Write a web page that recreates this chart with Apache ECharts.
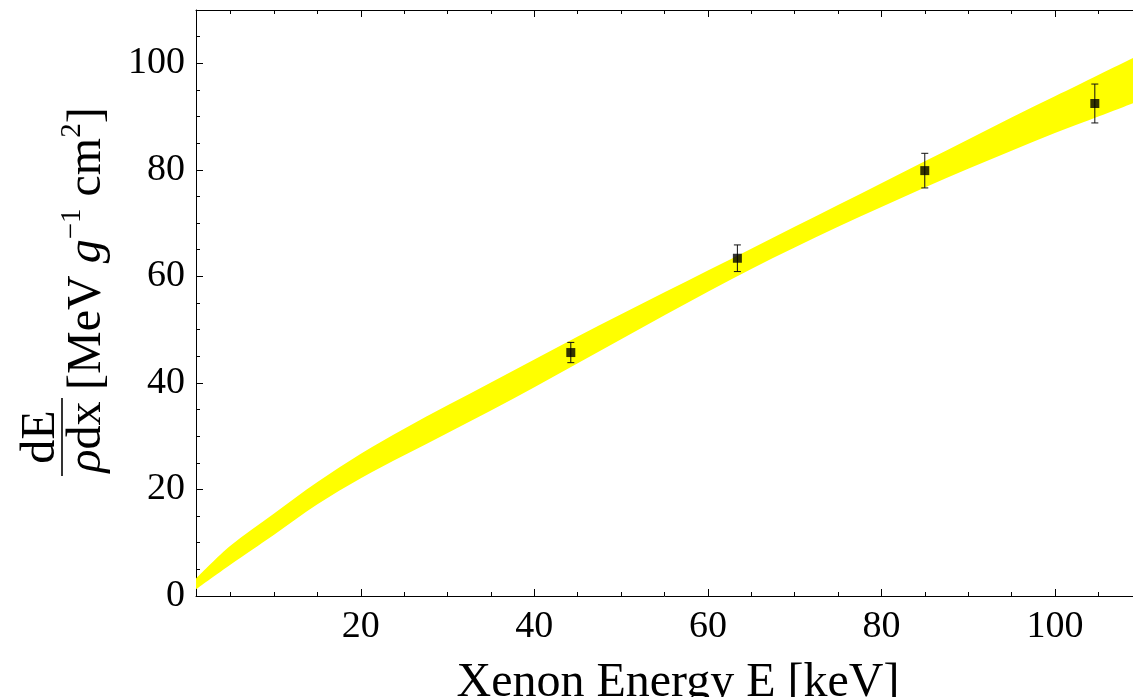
<!DOCTYPE html>
<html><head><meta charset="utf-8">
<script src="https://cdn.jsdelivr.net/npm/echarts@6/dist/echarts.min.js"></script>
<style>html,body{margin:0;padding:0;background:#fff}#c{width:1133px;height:697px}</style>
</head><body><div id="c"></div>
<script>
// Band (theory uncertainty)
const bandX     = [1, 5, 10, 15, 20, 25, 30, 35, 40, 45, 50, 55, 60, 65, 70, 75, 80, 85, 90, 95, 100, 105, 109];
const bandLower = [1.25, 5.9, 11.5, 17.2, 22.1, 26.4, 30.6, 34.8, 39.2, 43.7, 48.2, 52.7, 57.1, 61.4, 65.4, 69.3, 73.0, 76.7, 80.2, 83.6, 86.9, 90.0, 92.5];
const bandUpper = [3.3, 9.5, 15.5, 21.4, 26.7, 31.4, 35.8, 40.1, 44.4, 48.7, 52.9, 57.0, 61.1, 65.2, 69.3, 73.4, 77.5, 81.6, 85.7, 89.8, 93.8, 97.8, 101.0];
// Measured points with error bars
const pointX   = [44.2, 63.4, 85.0, 104.6];
const pointY   = [45.7, 63.4, 79.85, 92.45];
const pointErr = [1.9, 2.5, 3.25, 3.65];
// Ticks
const xMajorTicks = [20, 40, 60, 80, 100];
const xMinorTicks = [5, 10, 15, 25, 30, 35, 45, 50, 55, 65, 70, 75, 85, 90, 95, 105];
const yMajorTicks = [0, 20, 40, 60, 80, 100];
const yMinorTicks = [5, 10, 15, 25, 30, 35, 45, 50, 55, 65, 70, 75, 85, 90, 95, 105];
const xTitle = 'Xenon Energy E [keV]';

const FONT = 'Liberation Serif';
const chart = echarts.init(document.getElementById('c'), null, {renderer: 'canvas'});

function xAx(pos, ticks, len, showLine, showLabels, extra) {
  return Object.assign({
    type: 'value', min: 1, max: 109, position: pos, gridIndex: 0,
    axisLine: {show: showLine, onZero: false, lineStyle: {color: '#000', width: 1}},
    axisTick: {show: true, inside: true, length: len, customValues: ticks, lineStyle: {color: '#000', width: 1}},
    axisLabel: showLabels ? {show: true, customValues: xMajorTicks, margin: 12, color: '#000', fontFamily: FONT, fontSize: 38} : {show: false},
    splitLine: {show: false}
  }, extra || {});
}
function yAx(ticks, len, showLine, showLabels) {
  return {
    type: 'value', min: 0, max: 110, position: 'left', gridIndex: 0,
    axisLine: {show: showLine, onZero: false, lineStyle: {color: '#000', width: 1}},
    axisTick: {show: true, inside: true, length: len, customValues: ticks, lineStyle: {color: '#000', width: 1}},
    axisLabel: showLabels ? {show: true, customValues: yMajorTicks, margin: 11, color: '#000', fontFamily: FONT, fontSize: 38} : {show: false},
    splitLine: {show: false}
  };
}

// Catmull-Rom style smooth path segment through pixel points
function smoothSeg(pts) {
  let d = '';
  for (let i = 0; i < pts.length - 1; i++) {
    const p0 = pts[i - 1] || pts[i], p1 = pts[i], p2 = pts[i + 1], p3 = pts[i + 2] || pts[i + 1];
    const c1 = [p1[0] + (p2[0] - p0[0]) / 6, p1[1] + (p2[1] - p0[1]) / 6];
    const c2 = [p2[0] - (p3[0] - p1[0]) / 6, p2[1] - (p3[1] - p1[1]) / 6];
    d += ' C' + c1[0] + ',' + c1[1] + ' ' + c2[0] + ',' + c2[1] + ' ' + p2[0] + ',' + p2[1];
  }
  return d;
}

const option = {
  animation: false,
  backgroundColor: '#fff',
  grid: {left: 196, right: 0, top: 10, bottom: 101, containLabel: false, outerBoundsMode: 'none'},
  xAxis: [
    xAx('bottom', xMajorTicks, 7, true, true, {
      name: xTitle, nameLocation: 'middle', nameGap: 63,
      nameTextStyle: {fontFamily: FONT, fontSize: 48, color: '#000', padding: [0, 0, 0, 27]}
    }),
    xAx('bottom', xMinorTicks, 4, false, false),
    xAx('top', xMajorTicks, 7, true, false),
    xAx('top', xMinorTicks, 4, false, false)
  ],
  yAxis: [
    yAx(yMajorTicks, 7, true, true),
    yAx(yMinorTicks, 4, false, false)
  ],
  series: [
    {
      type: 'custom', xAxisIndex: 0, yAxisIndex: 0, z: 2, clip: true, silent: true,
      data: bandX.map((x, i) => [x, bandLower[i], bandUpper[i]]),
      encode: {x: 0, y: [1, 2]},
      renderItem: function (params, api) {
        if (params.dataIndex !== 0) return {type: 'group', children: []};
        const up = bandX.map((x, i) => api.coord([x, bandUpper[i]]));
        const lo = bandX.map((x, i) => api.coord([x, bandLower[i]])).reverse();
        let d = 'M' + up[0][0] + ',' + up[0][1] + smoothSeg(up);
        d += ' L' + lo[0][0] + ',' + lo[0][1] + smoothSeg(lo) + ' Z';
        return {type: 'path', shape: {pathData: d}, style: {fill: '#ffff00', stroke: null}};
      }
    },
    {
      type: 'custom', xAxisIndex: 0, yAxisIndex: 0, z: 4,
      data: pointX.map((x, i) => [x, pointY[i] - pointErr[i], pointY[i] + pointErr[i]]),
      encode: {x: 0, y: [1, 2]},
      renderItem: function (params, api) {
        const lo = api.coord([api.value(0), api.value(1)]);
        const hi = api.coord([api.value(0), api.value(2)]);
        const w = 3.5;
        const st = {stroke: '#111', lineWidth: 1};
        return {type: 'group', children: [
          {type: 'line', shape: {x1: lo[0], y1: lo[1], x2: hi[0], y2: hi[1]}, style: st},
          {type: 'line', shape: {x1: lo[0] - w, y1: lo[1], x2: lo[0] + w, y2: lo[1]}, style: st},
          {type: 'line', shape: {x1: hi[0] - w, y1: hi[1], x2: hi[0] + w, y2: hi[1]}, style: st}
        ]};
      }
    },
    {
      type: 'scatter', xAxisIndex: 0, yAxisIndex: 0, z: 5,
      data: pointX.map((x, i) => [x, pointY[i]]),
      symbol: 'rect', symbolSize: 9, itemStyle: {color: '#000'}
    }
  ],
  graphic: [
    {
      type: 'text', x: 87, y: 390, rotation: Math.PI / 2,
      style: {
        text: '{m|[MeV }{i|g}{s|−1}{m| cm}{s|2}{m|]}',
        align: 'left', verticalAlign: 'middle',
        rich: {
          m: {fontFamily: FONT, fontSize: 48, lineHeight: 58, color: '#000'},
          i: {fontFamily: FONT, fontSize: 48, lineHeight: 58, fontStyle: 'italic', color: '#000'},
          s: {fontFamily: FONT, fontSize: 29, lineHeight: 29, verticalAlign: 'top', color: '#000'}
        }
      }
    },
    {
      type: 'text', x: 41, y: 437, rotation: Math.PI / 2,
      style: {text: 'dE', fontFamily: FONT, fontSize: 48, fill: '#000', align: 'center', verticalAlign: 'middle'}
    },
    {
      type: 'line', shape: {x1: 62, y1: 398, x2: 62, y2: 476},
      style: {stroke: '#000', lineWidth: 1.6}
    },
    {
      type: 'text', x: 87, y: 437, rotation: Math.PI / 2,
      style: {
        text: '{i|ρ}{m|dx}', align: 'center', verticalAlign: 'middle',
        rich: {
          m: {fontFamily: FONT, fontSize: 48, color: '#000'},
          i: {fontFamily: FONT, fontSize: 48, fontStyle: 'italic', color: '#000'}
        }
      }
    }
  ]
};
chart.setOption(option);
</script>
</body></html>
